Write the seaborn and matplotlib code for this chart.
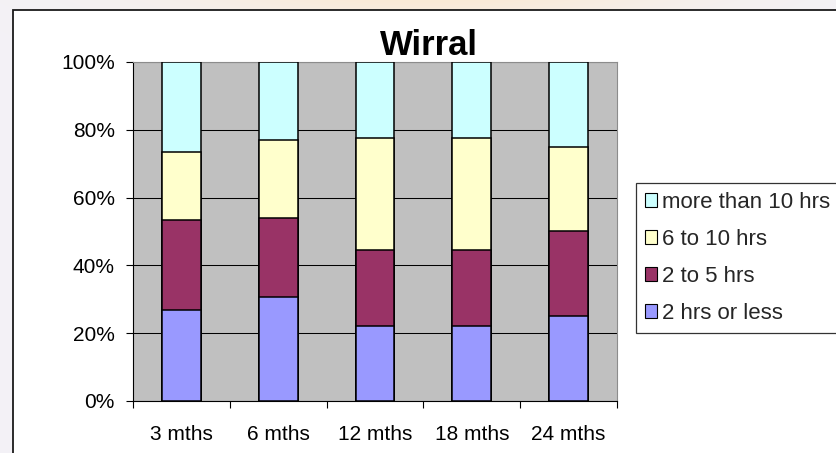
import numpy as np
import pandas as pd
import matplotlib
matplotlib.use("Agg")
import matplotlib.pyplot as plt
from matplotlib.patches import Rectangle, Patch
import seaborn as sns

# Share of respondents by hours, per follow-up point (percent)
periods = ["3 mths", "6 mths", "12 mths", "18 mths", "24 mths"]
hrs_2_or_less = [26.7, 30.8, 22.2, 22.2, 25.0]
hrs_2_to_5 = [26.7, 23.1, 22.2, 22.2, 25.0]
hrs_6_to_10 = [20.0, 23.1, 33.3, 33.3, 25.0]
hrs_more_10 = [26.6, 23.0, 22.3, 22.3, 25.0]

series_names = ["2 hrs or less", "2 to 5 hrs", "6 to 10 hrs", "more than 10 hrs"]
series_values = [hrs_2_or_less, hrs_2_to_5, hrs_6_to_10, hrs_more_10]
series_colors = ["#9999FF", "#993366", "#FFFFCC", "#CCFFFF"]
y_ticks = [0, 20, 40, 60, 80, 100]
y_tick_labels = ["0%", "20%", "40%", "60%", "80%", "100%"]

sns.set_theme(style="white")
plt.rcParams["font.family"] = ["Liberation Sans", "DejaVu Sans"]

W, H = 836, 453
fig = plt.figure(figsize=(W / 100, H / 100), dpi=100)

# soft slide background behind the chart frame
bg = fig.add_axes([0, 0, 1, 1], zorder=-2)
yy, xx = np.mgrid[0:H, 0:W]
base = np.array([243, 242, 247], dtype=float)
warm = np.array([250, 234, 214], dtype=float)
glow = np.exp(-((xx - 430) / 260.0) ** 2) * np.exp(-(yy / 40.0))
img = base[None, None, :] * (1 - glow[..., None]) + warm[None, None, :] * glow[..., None]
bg.imshow(img.astype(np.uint8), aspect="auto", extent=(0, W, H, 0))
bg.set_axis_off()

# chart area frame
fig.patches.append(Rectangle((13 / W, -0.1), 1.2, 1 - 10 / H + 0.1,
                             transform=fig.transFigure, facecolor="white",
                             edgecolor="#1a1a1a", linewidth=1.3, zorder=-1))

ax = fig.add_axes([133 / W, 1 - 401 / H, 484 / W, 339 / H], zorder=0)
ax.set_facecolor("#C0C0C0")

# stacked bars: draw cumulative totals, tallest first
cum = np.zeros(len(periods))
tops = []
for vals in series_values:
    cum = cum + np.array(vals)
    tops.append(cum.copy())
for name, top, color in reversed(list(zip(series_names, tops, series_colors))):
    sns.barplot(x=periods, y=np.minimum(top, 100), color=color, saturation=1,
                width=0.4, edgecolor="black", linewidth=1.1, ax=ax, zorder=3)

ax.set_xlim(-0.5, 4.5)
ax.set_ylim(0, 100)
ax.set_yticks(y_ticks)
ax.set_yticklabels(y_tick_labels, fontsize=15)
ax.set_xticks(range(len(periods)))
ax.set_xticklabels(periods, fontsize=15)
ax.set_xticks(np.arange(-0.5, len(periods), 1), minor=True)
ax.tick_params(axis="x", which="major", length=0, pad=17, colors="black")
ax.tick_params(axis="x", which="minor", length=5, width=0.8, direction="out", color="black", bottom=True)
ax.tick_params(axis="y", length=5, width=0.8, direction="out", pad=8, colors="black", left=True)
ax.set_xlabel("")
ax.set_ylabel("")
ax.yaxis.grid(True, color="black", linewidth=0.75)
ax.set_axisbelow(True)
for side in ["left", "bottom"]:
    ax.spines[side].set_color("black")
    ax.spines[side].set_linewidth(0.8)
for side in ["top", "right"]:
    ax.spines[side].set_color("#8c8c8c")
    ax.spines[side].set_linewidth(0.8)

fig.text(429 / W, 1 - 55 / H, "Wirral", ha="center", va="baseline",
         fontsize=25, fontweight="bold", color="black")

handles = [Patch(facecolor=c, edgecolor="black", linewidth=0.8)
           for c in reversed(series_colors)]
leg = fig.legend(handles, list(reversed(series_names)), loc="upper left",
                 bbox_to_anchor=(636 / W, 1 - 183 / H), fontsize=16,
                 handlelength=0.55, handleheight=0.55, handletextpad=0.2,
                 labelspacing=0.72, borderpad=0.4, borderaxespad=0,
                 frameon=True, fancybox=False)
leg.get_frame().set_edgecolor("black")
leg.get_frame().set_linewidth(0.9)

fig.savefig("out.png", dpi=100)
